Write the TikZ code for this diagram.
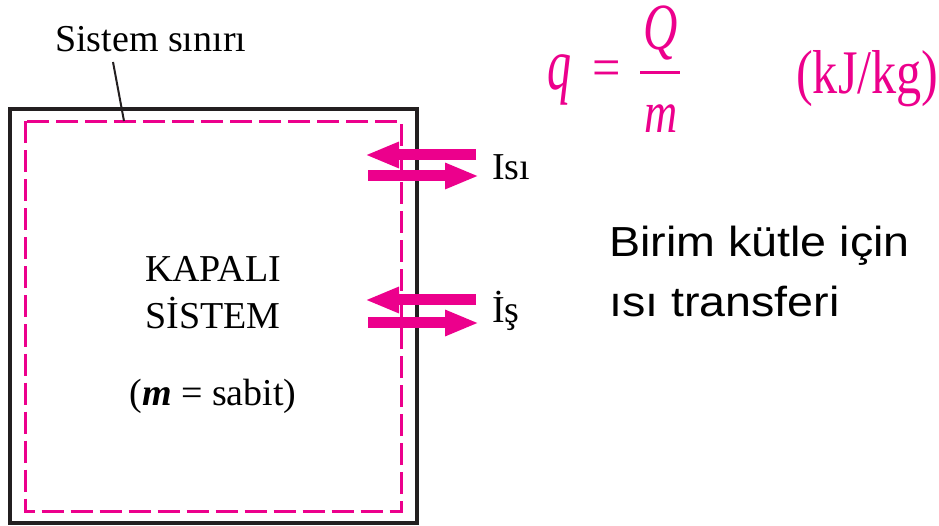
\documentclass[tikz,border=0pt]{standalone}
\usepackage{graphicx}
\usepackage{fontspec}
\setmainfont{Liberation Serif}
\newfontfamily\arialfont{Liberation Sans}
\usetikzlibrary{arrows.meta, positioning, calc}
\definecolor{mag}{RGB}{236,0,140}
\definecolor{ink}{RGB}{35,31,32}

\begin{document}
\begin{tikzpicture}[x=1pt, y=-1pt,
  lbl/.style={inner sep=0pt, font=\fontsize{38}{40}\selectfont},
  flow/.style={mag, line width=11pt, -{Triangle[length=34pt, width=24pt]}},
  eq/.style={inner sep=0pt, text=mag},
  note/.style={inner sep=0pt, anchor=base west, font=\arialfont\fontsize{42}{48}\selectfont}]
  \useasboundingbox (0,0) rectangle (939,526);
  % closed system with its boundary
  \draw[ink, line width=4pt] (10,109) rectangle (417,523);
  \draw[mag, line width=3pt, dash pattern=on 22pt off 7pt] (25,121.5) rectangle (401.5,511);
  \node[lbl, anchor=base west] (sinir) at (55,52) {Sistem sınırı};
  \coordinate (sinirA) at (113,62);
  \coordinate (sinirB) at (124,121);
  \draw[ink, line width=2pt] (sinirA) -- (sinirB);
  \node[lbl, anchor=base] (kapali) at (213,282) {KAPALI};
  \node[lbl, anchor=base] (sistem) at (213,329) {SİSTEM};
  \node[lbl, anchor=base] (sabit) at (213,405) {(\textbf{\textit{m}} = sabit)};
  % heat and work across the boundary
  \coordinate (isiA) at (476,155); \coordinate (isiB) at (365,155);
  \coordinate (isiC) at (368,176); \coordinate (isiD) at (479,176);
  \coordinate (isA) at (476,300); \coordinate (isB) at (365,300);
  \coordinate (isC) at (368,323); \coordinate (isD) at (479,323);
  \draw[flow] (isiA) -- (isiB);
  \draw[flow] (isiC) -- (isiD);
  \draw[flow] (isA) -- (isB);
  \draw[flow] (isC) -- (isD);
  \node[lbl, anchor=base west] (isi) at (492,180) {Isı};
  \node[lbl, anchor=base west] (is) at (492,323) {İş};
  % q = Q/m
  \node[eq, anchor=base west, font=\fontsize{74}{76}\selectfont\itshape] (q) at (547,90) {\scalebox{0.65}[1]{q}};
  \node[eq, font=\fontsize{56}{58}\selectfont] (eqs) at (607,74) {\scalebox{0.9}[1]{=}};
  \node[eq, anchor=base, font=\fontsize{66}{68}\selectfont\itshape] (Q) at (661,50) {\scalebox{0.72}[1]{Q}};
  \node[eq, anchor=base, font=\fontsize{59}{61}\selectfont\itshape] (m) at (661,133) {\scalebox{0.78}[1]{m}};
  \coordinate (barL) at (640,72.5); \coordinate (barR) at (680,72.5);
  \draw[mag, line width=3pt] (barL) -- (barR);
  \node[eq, anchor=base west, font=\fontsize{62}{64}\selectfont] (birim) at (796,94) {\scalebox{0.81}[1]{(kJ/kg)}};
  \node[note] (not1) at (609,257) {\scalebox{1.11}[1]{Birim kütle için}};
  \node[note] (not2) at ($(not1.base west)+(0,60)$) {\scalebox{1.11}[1]{ısı transferi}};
\end{tikzpicture}
\end{document}
